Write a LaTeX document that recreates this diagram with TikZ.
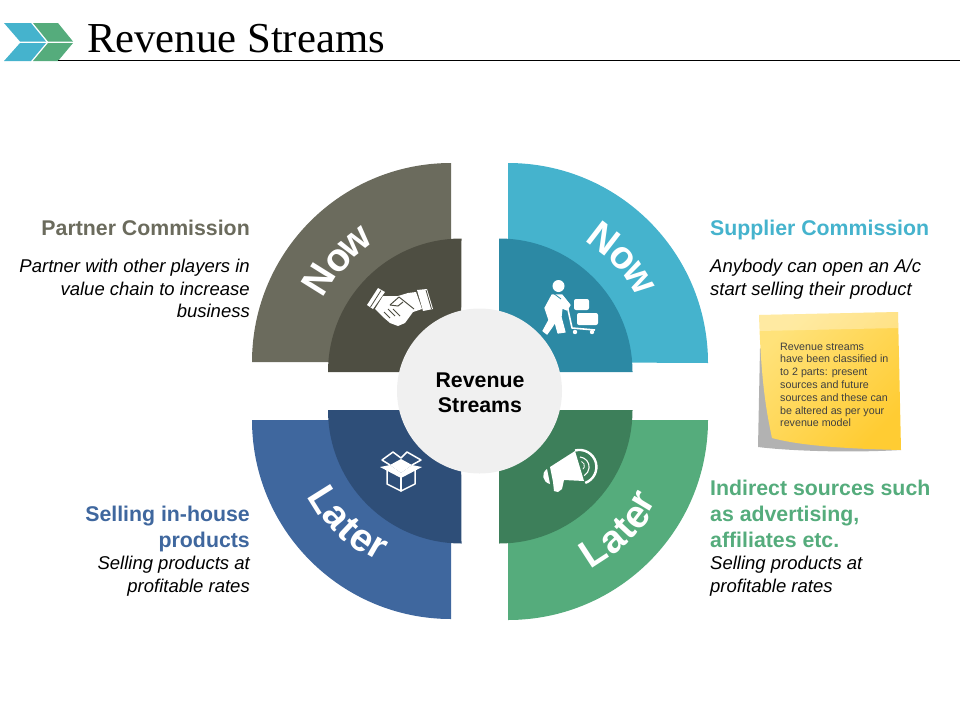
\documentclass[tikz,border=0pt]{standalone}
\usepackage{fontspec}
\setmainfont{Liberation Sans}
\newfontfamily\titlefont{Liberation Serif}
\definecolor{olive}{HTML}{6B6B5D}\definecolor{oliveD}{HTML}{4E4E42}
\definecolor{teal}{HTML}{45B3CD}\definecolor{tealD}{HTML}{2C89A4}
\definecolor{blu}{HTML}{3F679E}\definecolor{bluD}{HTML}{2E4E78}
\definecolor{grn}{HTML}{55AC7C}\definecolor{grnD}{HTML}{3D7F5A}
\definecolor{noteA}{HTML}{FFE27A}\definecolor{noteB}{HTML}{FFCC33}
\tikzset{
 wedgeletter/.style={text=white,font=\fontsize{39}{39}\selectfont\bfseries,inner sep=0pt,anchor=base},
 headR/.style={anchor=north east,align=right,inner sep=0pt,font=\fontsize{21.3}{26}\selectfont\bfseries},
 headL/.style={anchor=north west,align=left,inner sep=0pt,font=\fontsize{21.3}{26}\selectfont\bfseries},
 bodyR/.style={anchor=north east,align=right,inner sep=0pt,font=\fontsize{18.5}{22.9}\selectfont\itshape},
 bodyL/.style={anchor=north west,align=left,inner sep=0pt,font=\fontsize{18.5}{22.9}\selectfont\itshape},
 iconfill/.style={fill=white,draw=none},
 iconbold/.style={fill=white,draw=white,line width=1.2pt,line join=round},
 iconline/.style={draw=white,line width=1.5pt,line join=round,line cap=round},
}
% name, centre x, centre y, radius, angle (counter-clockwise on the page), rotation, letter
\newcommand{\arcglyph}[7]{\node[wedgeletter,rotate=#6] (#1) at ({#2+#4*cos(#5)},{#3-#4*sin(#5)}) {#7};}
\begin{document}
\begin{tikzpicture}[x=1pt,y=-1pt]
\useasboundingbox (0,0) rectangle (960,720);
% header chevrons
\fill[teal] (4,23)--(31,23)--(46,41.5)--(20,41.5)--cycle;
\fill[teal] (20,43)--(46,43)--(31,61)--(4,61)--cycle;
\fill[grn] (33,23)--(58,23)--(73,41.5)--(48,41.5)--cycle;
\fill[grn] (48,43)--(73,43)--(58,61)--(33,61)--cycle;
\draw[black,line width=1pt] (58,60.5)--(960,60.5);
\node[anchor=base west,inner sep=0pt,font=\fontsize{42.7}{42.7}\selectfont\titlefont] (title) at (87,52) {Revenue Streams};
% outer quadrants
\fill[olive] (451,362)--(252,362) arc (180:270:199)--cycle;
\fill[teal] (508,362)--(508,163) arc (270:360:200)--cycle;
\fill[blu] (451,420)--(252,420) arc (180:90:199)--cycle;
\fill[grn] (508,420)--(708,420) arc (0:90:200)--cycle;
% inner quadrants
\fill[oliveD] (461,372)--(328,372) arc (180:270:133.5)--cycle;
\fill[tealD] (499,372)--(499,238.5) arc (270:360:133.5)--cycle;
\fill[bluD] (461,410)--(328,410) arc (180:90:133.5)--cycle;
\fill[grnD] (499,410)--(632.5,410) arc (0:90:133.5)--cycle;
\node[circle,fill=black!6,minimum size=165pt,inner sep=0pt] (hub) at (479.5,391) {};
\node[align=center,inner sep=0pt,font=\fontsize{21.3}{25}\selectfont\bfseries] (hubtext) at (480,392.5) {Revenue\\Streams};
% wedge words, letter by letter along the arc
\arcglyph{nowAa}{451}{362}{143}{148}{58}{N}
\arcglyph{nowAb}{451}{362}{141}{138}{48}{o}
\arcglyph{nowAc}{451}{362}{142}{128.5}{38.5}{w}
\arcglyph{nowBa}{508}{362}{143}{52.4}{-37.6}{N}
\arcglyph{nowBb}{508}{362}{143.5}{42.2}{-47.8}{o}
\arcglyph{nowBc}{508}{362}{144.5}{32.4}{-57.6}{w}
\arcglyph{latAa}{451}{420}{162.5}{212}{-58}{L}
\arcglyph{latAb}{451}{420}{161.5}{220}{-50}{a}
\arcglyph{latAc}{451}{420}{162}{226.8}{-43.2}{t}
\arcglyph{latAd}{451}{420}{160.5}{233.3}{-36.7}{e}
\arcglyph{latAe}{451}{420}{158}{240}{-30}{r}
\arcglyph{latBa}{508}{420}{170.5}{-57}{33}{L}
\arcglyph{latBb}{508}{420}{172}{-49}{41}{a}
\arcglyph{latBc}{508}{420}{172}{-42.8}{47.2}{t}
\arcglyph{latBd}{508}{420}{173}{-37}{53}{e}
\arcglyph{latBe}{508}{420}{169}{-31}{59}{r}
% handshake icon
\fill[iconfill] (367,305)--(378,288)--(385,292)--(373,309)--cycle;
\fill[iconfill] (417,290)--(427,289)--(433,309)--(423,311)--cycle;
\draw[oliveD,line width=.8pt] (370.5,307)--(381,290.5) (426,290)--(431.5,309);
\fill[iconfill] (383,296)--(398,296)--(408,293)--(416,292)--(422,309)--(413,312)--(405,323)--(398,326)--(390,323)--(383,317)--(375,309)--cycle;
\draw[oliveD,line width=1pt,line join=round] (390,305)--(399,297)--(414,309);
\draw[oliveD,line width=1pt,line join=round] (390,305)--(398,306)--(403,302);
\draw[oliveD,line width=1pt] (384,312)--(390,318) (388,309)--(395,316) (393,309)--(400,316);
% worker icon
\fill[iconfill] (558.5,286) circle (6);
\fill[iconbold] (552,295)--(562,295)--(570,305)--(567,310)--(562,308)--(561,317)--(565,332)--(558,333)--(555,322)--(552,327)--(547,334)--(543,331)--(549,320)--(545,308)--cycle;
\draw[tealD,line width=.8pt] (553,293)--(561,299);
\draw[white,line width=1.6pt,line join=round] (567,305)--(572,328)--(595,330);
\fill[iconfill] (575,332) circle (2.2) (592,332) circle (2.2);
\fill[iconfill,rounded corners=2pt] (574,299) rectangle (589,310);
\fill[iconfill,rounded corners=2pt] (577,313) rectangle (598,325);
% box icon
\draw[iconline] (387,469)--(387,484)--(401,491)--(415,484)--(415,469);
\draw[iconline] (401,477)--(401,491);
\fill[iconfill] (390,465)--(401,459)--(412,465)--(401,473)--cycle;
\draw[iconline] (390,465)--(382,460)--(393,452)--(401,458)--(407,452)--(421,460)--(412,465);
\fill[iconfill] (380,467)--(390,465)--(401,473)--(412,465)--(422,467)--(401,478)--cycle;
% megaphone icon
\fill[iconfill] (550,467)--(575,451)--(584,481)--(564,480)--(562,489)--(558,492)--(554,491)--(553,482)--cycle;
\fill[iconfill] (547,469) .. controls (541,473) and (542,482) .. (550,484)--cycle;
\draw[white,line width=2.4pt] (575,450.5) arc (-105:70:17);
\draw[white,line width=1.1pt] (580,457) arc (-85:60:10);
\draw[white,line width=.8pt] (581.5,461.5) arc (-70:50:4.5);
% sticky note
\fill[black!30] (760,348)--(758,447) .. controls (790,451) and (850,453) .. (901,450)--(880,440)--cycle;
\shade[top color=noteA,bottom color=noteB,shading angle=45]
  (759,315)--(898,312)--(901,450) .. controls (860,449) and (805,447) .. (772,438) .. controls (766,410) and (761,380) .. (759,315)--cycle;
\fill[white,opacity=.3] (759,315)--(898,312)--(898.4,328)--(759,331)--cycle;
\node[anchor=north west,align=left,inner sep=0pt,text=black!75,font=\fontsize{10.7}{12.8}\selectfont] (notetext) at (780,342.5) {Revenue streams\\have been classified in\\to 2 parts: present\\sources and future\\sources and these can\\be altered as per your\\revenue model};
% left column
\node[headR,text=olive] (h1) at (250,220) {Partner Commission};
\node[bodyR] (b1) at (250,258.5) {Partner with other players in\\value chain to increase\\business};
\node[headR,text=blu] (h3) at (250,506) {Selling in-house\\products};
\node[bodyR] (b3) at (250,556) {Selling products at\\profitable rates};
% right column
\node[headL,text=teal] (h2) at (710,220) {Supplier Commission};
\node[bodyL] (b2) at (710,258.5) {Anybody can open an A/c\\start selling their product};
\node[headL,text=grn] (h4) at (710,480) {Indirect sources such\\as advertising,\\affiliates etc.};
\node[bodyL] (b4) at (710,556) {Selling products at\\profitable rates};
\end{tikzpicture}
\end{document}
